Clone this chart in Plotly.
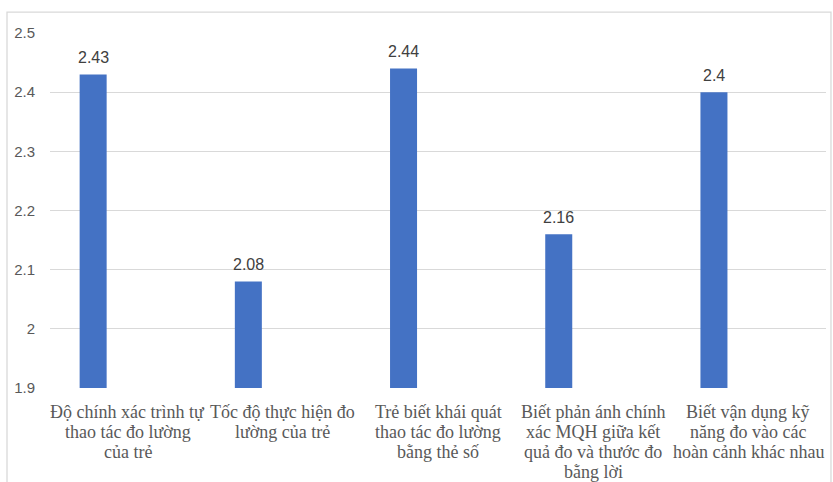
import plotly.graph_objects as go

categories = [
    "Độ chính xác trình tự<br>thao tác đo lường<br>của trẻ",
    "Tốc độ thực hiện đo<br>lường của trẻ",
    "Trẻ biết khái quát<br>thao tác đo lường<br>bằng thẻ số",
    "Biết phản ánh chính<br>xác MQH giữa kết<br>quả đo và thước đo<br>bằng lời",
    "Biết vận dụng kỹ<br>năng đo vào các<br>hoàn cảnh khác nhau",
]
values = [2.43, 2.08, 2.44, 2.16, 2.4]
value_labels = ["2.43", "2.08", "2.44", "2.16", "2.4"]
y_ticks = [1.9, 2.0, 2.1, 2.2, 2.3, 2.4, 2.5]
y_tick_text = ["1.9", "2", "2.1", "2.2", "2.3", "2.4", "2.5"]
y_base = 1.9

idx = list(range(len(categories)))
bar_offset = -0.222
bar_width = 0.174
bar_x = [i + bar_offset for i in idx]

fig = go.Figure()
fig.add_trace(go.Bar(
    x=bar_x, y=[v - y_base for v in values], base=y_base, width=bar_width,
    marker=dict(color="#4472C4", line=dict(width=0)),
    hoverinfo="skip",
))

for xv, v, t in zip(bar_x, values, value_labels):
    fig.add_annotation(x=xv, y=v, text=t, showarrow=False, yshift=17,
                       font=dict(family="Liberation Sans", size=16, color="#404040"))

# category labels, one annotation per line for Excel-like line spacing
for i, cat in zip(idx, categories):
    for k, line in enumerate(cat.split("<br>")):
        fig.add_annotation(x=i, y=0, xref="x", yref="paper", text=line, showarrow=False,
                           yanchor="middle", yshift=-(24 + 20 * k),
                           font=dict(family="Times New Roman, Liberation Serif, serif",
                                     size=18, color="#595959"))

fig.update_layout(
    width=833, height=482,
    margin=dict(l=50, r=7, t=33, b=94, autoexpand=False),
    paper_bgcolor="white", plot_bgcolor="white",
    showlegend=False,
    xaxis=dict(
        range=[-0.5, 4.5], showticklabels=False, showgrid=False, zeroline=False,
        showline=False, ticks="", automargin=False,
    ),
    yaxis=dict(
        range=[1.9, 2.5], tickmode="array", tickvals=y_ticks, ticktext=y_tick_text,
        showgrid=True, gridcolor="#D9D9D9", gridwidth=1.3, zeroline=False, showline=False,
        ticks="", ticklabelstandoff=14, automargin=False,
        tickfont=dict(family="Liberation Sans", size=15, color="#595959"),
    ),
)
fig.add_shape(type="rect", xref="paper", yref="paper",
              x0=-0.0554, x1=1.0064, y0=-0.4, y1=1.059,
              line=dict(color="#D9D9D9", width=1.3), fillcolor="rgba(0,0,0,0)", layer="below")

fig.write_html("out.html")
